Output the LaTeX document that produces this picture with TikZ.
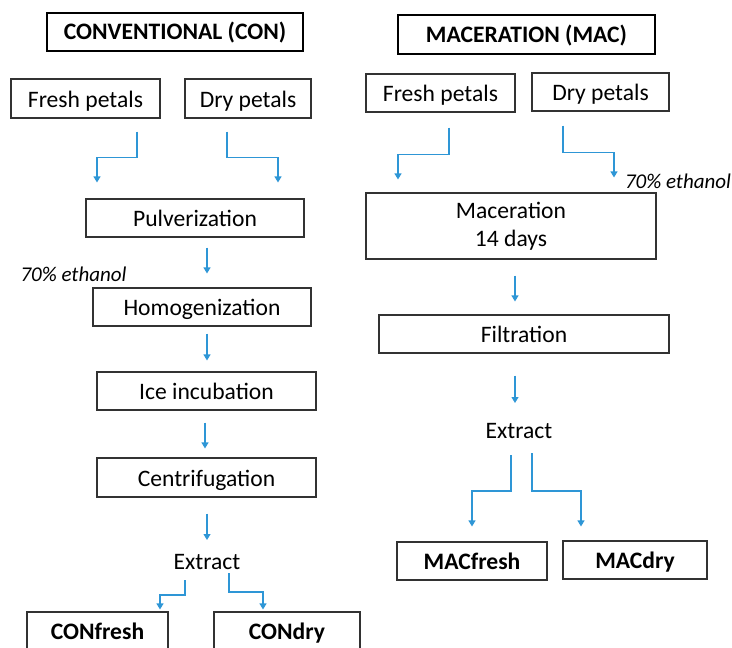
\documentclass[tikz,border=0pt]{standalone}
\usepackage{fontspec}
\setmainfont{Carlito}
\usetikzlibrary{arrows.meta,calc}
\definecolor{arrblue}{RGB}{46,150,214}
\definecolor{boxline}{RGB}{50,50,50}
\tikzset{
  basebox/.style={draw=boxline, line width=1.1pt, rectangle, inner sep=0pt, font=\fontsize{23.6}{28}\selectfont},
  box/.style={basebox, text height=20pt, text depth=2.6pt},
  titlebox/.style={draw=black, line width=2.2pt, rectangle, inner sep=0pt, text height=17.8pt, text depth=2.4pt, font=\fontsize{23.6}{28}\selectfont\bfseries},
  resbox/.style={box, font=\fontsize{23.6}{28}\selectfont\bfseries},
  plain/.style={inner sep=0pt, font=\fontsize{23.6}{28}\selectfont},
  note/.style={inner sep=0pt, font=\fontsize{21}{24}\selectfont\itshape},
  arr/.style={draw=arrblue, line width=1.1pt, -{Triangle[width=7pt,length=6pt]}}
}
\begin{document}
\begin{tikzpicture}[x=1pt,y=-1pt]
\useasboundingbox (0,0) rectangle (732,648);
% CON column
\node[titlebox, minimum width=256pt, minimum height=38pt] (titleC) at (175,32) {CONVENTIONAL (CON)};
\node[box, minimum width=149pt, minimum height=39pt] (fpC) at (85.5,98.5) {Fresh petals};
\node[box, minimum width=126pt, minimum height=39pt] (dpC) at (248,98.5) {Dry petals};
\node[box, minimum width=218pt, minimum height=38pt] (pulv) at (195,218) {Pulverization};
\node[note] (ethC) at (73.5,274) {70\% ethanol};
\node[box, minimum width=218pt, minimum height=38pt] (homo) at (202,307) {Homogenization};
\node[box, minimum width=219pt, minimum height=38pt] (ice) at (206.5,391) {Ice incubation};
\node[box, minimum width=219pt, minimum height=39pt] (cent) at (206.5,477.5) {Centrifugation};
\node[plain] (extC) at (207,562) {Extract};
\node[resbox, minimum width=141pt, minimum height=38pt] (conf) at (97.5,631) {CONfresh};
\node[resbox, minimum width=146pt, minimum height=38pt] (cond) at (287,631) {CONdry};
% MAC column
\node[titlebox, minimum width=257pt, minimum height=39pt] (titleM) at (526.5,34.5) {MACERATION (MAC)};
\node[box, minimum width=149pt, minimum height=38pt] (fpM) at (440.5,93) {Fresh petals};
\node[box, minimum width=137pt, minimum height=38pt] (dpM) at (600.5,92) {Dry petals};
\node[note] (ethM) at (678,181) {70\% ethanol};
\node[basebox, minimum width=290pt, minimum height=66pt, align=center] (mac) at (511,226) {Maceration\\14 days};
\node[box, minimum width=290pt, minimum height=38pt] (filt) at (524,334) {Filtration};
\node[plain] (extM) at (519,431) {Extract};
\node[resbox, minimum width=150pt, minimum height=38pt] (macf) at (472,561) {MACfresh};
\node[resbox, minimum width=144pt, minimum height=38pt] (macd) at (635,560) {MACdry};
% CON connectors
\draw[arr] ($(fpC.south)+(51.5,13)$) -- ++(0,26) -| ($(pulv.north)+(-98,-16)$);
\draw[arr] ($(dpC.south)+(-21,13)$) -- ++(0,26) -| ($(pulv.north)+(83,-16)$);
\draw[arr] ($(pulv.south)+(12,10)$) -- ($(homo.north)+(5,-14)$);
\draw[arr] ($(homo.south)+(5,7)$) -- ($(ice.north)+(0.5,-11)$);
\draw[arr] ($(ice.south)+(-1.5,12)$) -- ($(cent.north)+(-1.5,-9)$);
\draw[arr] ($(cent.south)+(0.5,16)$) -- ($(extC.center)+(0,-22)$);
\draw[arr] ($(extC.center)+(-22,18)$) -- ++(0,15) -| ($(conf.north)+(62.5,-2)$);
\draw[arr] ($(extC.center)+(22,11)$) -- ++(0,19) -| ($(cond.north)+(-24,-2)$);
% MAC connectors
\draw[arr] ($(fpM.south)+(8.5,15)$) -- ++(0,27) -| ($(mac.north)+(-113,-13)$);
\draw[arr] ($(dpM.south)+(-37.5,14)$) -- ++(0,27) -| ($(mac.north)+(103,-15)$);
\draw[arr] ($(mac.south)+(4,16)$) -- ($(filt.north)+(-9,-13)$);
\draw[arr] ($(filt.south)+(-9,22)$) -- ($(extM.center)+(-4,-28)$);
\draw[arr] ($(extM.center)+(-8,24)$) -- ++(0,36) -| ($(macf.north)+(0,-15)$);
\draw[arr] ($(extM.center)+(13,22)$) -- ++(0,38) -| ($(macd.north)+(-54,-14)$);
\end{tikzpicture}
\end{document}
